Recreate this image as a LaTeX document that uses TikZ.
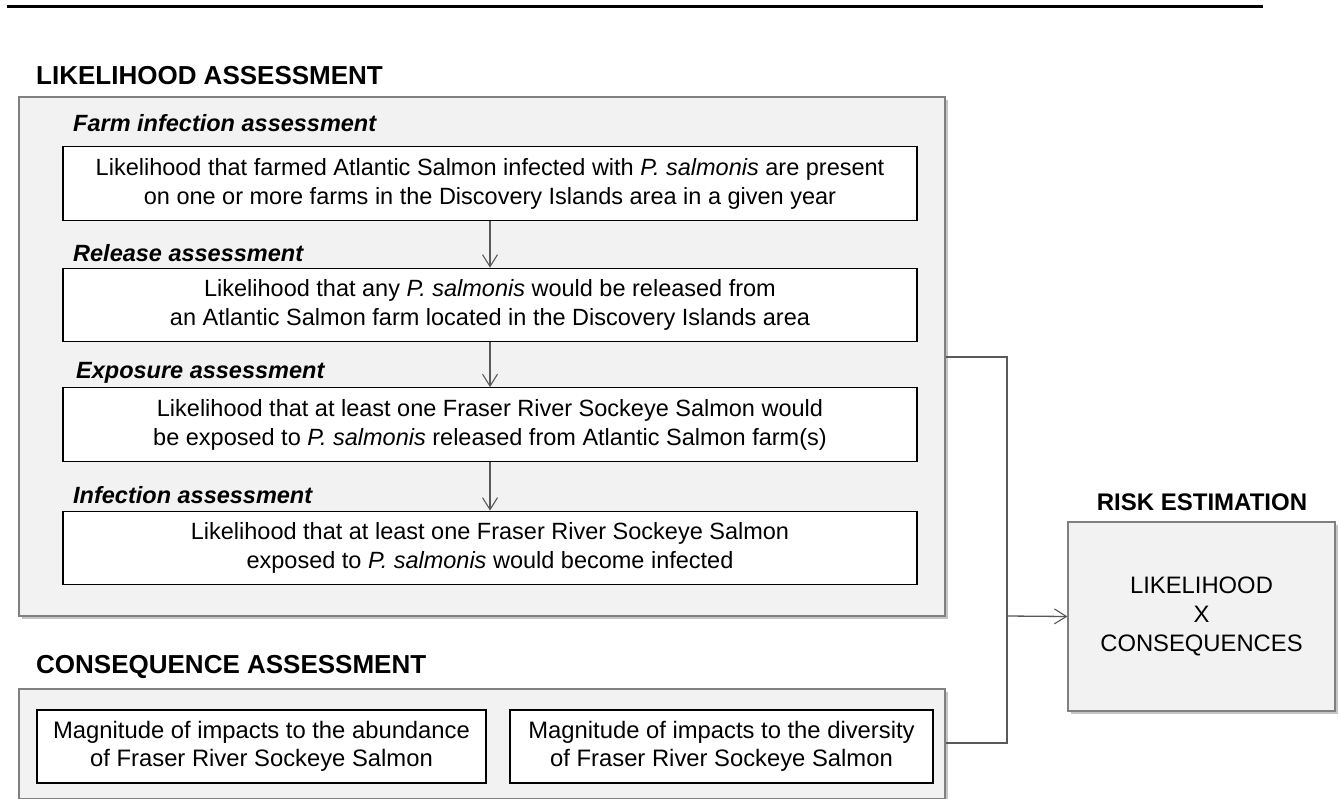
\documentclass[tikz,border=0pt]{standalone}
\usepackage{fontspec}
\setmainfont{Liberation Sans}
\usetikzlibrary{arrows.meta,shadows}
\definecolor{panel}{HTML}{F2F2F2}
\definecolor{edgegray}{HTML}{808080}
\definecolor{linegray}{HTML}{595959}
\tikzset{
  panelbox/.style={draw=edgegray, line width=1.2pt, fill=panel,
    drop shadow={shadow xshift=2.5pt, shadow yshift=-2.5pt, fill=black!45}},
  stepbox/.style={draw=black, line width=1.2pt, fill=white, align=center,
    inner sep=0pt, minimum width=854pt, minimum height=73.5pt,
    font=\fontsize{23.5}{29}\selectfont},
  consbox/.style={draw=black, line width=1.2pt, fill=white, align=center,
    inner sep=0pt, minimum height=73pt, font=\fontsize{23.8}{28}\selectfont},
  headtitle/.style={anchor=west, inner sep=0pt, font=\bfseries\fontsize{26}{30}\selectfont},
  steplabel/.style={anchor=west, inner sep=0pt, font=\bfseries\itshape\fontsize{23.5}{27}\selectfont},
  conn/.style={draw=linegray, line width=1.3pt},
  flow/.style={conn, -{Straight Barb[length=12pt,width=15pt,line width=1.1pt]}},
}
\begin{document}
\begin{tikzpicture}[x=1pt,y=-1pt]
\useasboundingbox (0,0) rectangle (1340,798);
% top rule
\coordinate (ruleL) at (7,6);
\coordinate (ruleR) at (1263,6);
\draw[line width=3pt] (ruleL) -- (ruleR);

% Likelihood assessment
\node[headtitle] (ltitle) at (36,76) {LIKELIHOOD ASSESSMENT};
\node[panelbox, minimum width=926pt, minimum height=519pt, inner sep=0pt] (lout) at (482,356.5) {};

\node[steplabel] (lab1) at (73,123) {Farm infection assessment};
\node[stepbox] (b1) at (490,183.5) {Likelihood that farmed Atlantic Salmon infected with \textit{P. salmonis} are present\\on one or more farms in the Discovery Islands area in a given year};

\node[steplabel] (lab2) at (73,253) {Release assessment};
\node[stepbox] (b2) at (490,305) {Likelihood that any \textit{P. salmonis} would be released from\\an Atlantic Salmon farm located in the Discovery Islands area};

\node[steplabel] (lab3) at (76,373) {Exposure assessment};
\node[stepbox] (b3) at (490,424.5) {Likelihood that at least one Fraser River Sockeye Salmon would\\be exposed to \textit{P. salmonis} released from Atlantic Salmon farm(s)};

\node[steplabel] (lab4) at (73,495) {Infection assessment};
\node[stepbox] (b4) at (490,548) {Likelihood that at least one Fraser River Sockeye Salmon\\exposed to \textit{P. salmonis} would become infected};

\draw[flow] (b1.south) -- (b2.north);
\draw[flow] (b2.south) -- (b3.north);
\draw[flow] (b3.south) -- (b4.north);

% Consequence assessment
\node[headtitle] (ctitle) at (36,667) {CONSEQUENCE ASSESSMENT};
\node[panelbox, minimum width=926pt, minimum height=110pt, inner sep=0pt] (cout) at (482,744) {};
\node[consbox, minimum width=449pt] (c1) at (261.5,746.5) {Magnitude of impacts to the abundance\\of Fraser River Sockeye Salmon};
\node[consbox, minimum width=423pt] (c2) at (721.5,746.5) {Magnitude of impacts to the diversity\\of Fraser River Sockeye Salmon};

% Risk estimation
\node[font=\bfseries\fontsize{24}{28}\selectfont, inner sep=0pt] (rtitle) at (1202,502) {RISK ESTIMATION};
\node[panelbox, minimum width=267pt, minimum height=189pt, inner sep=0pt, align=center,
      font=\fontsize{23.8}{29}\selectfont] (risk) at (1201.5,616.5) {LIKELIHOOD\\X\\CONSEQUENCES};

% connectors
\coordinate (lj) at (lout.east |- 0,357);
\coordinate (cj) at (cout.east |- 0,743);
\coordinate (jt) at (1007,357);
\coordinate (jb) at (1007,743);
\coordinate (jm) at (1007,616);
\draw[conn] (lj) -- (jt) -- (jb) -- (cj);
\draw[flow] (jm) -- (risk.west);
\end{tikzpicture}
\end{document}
